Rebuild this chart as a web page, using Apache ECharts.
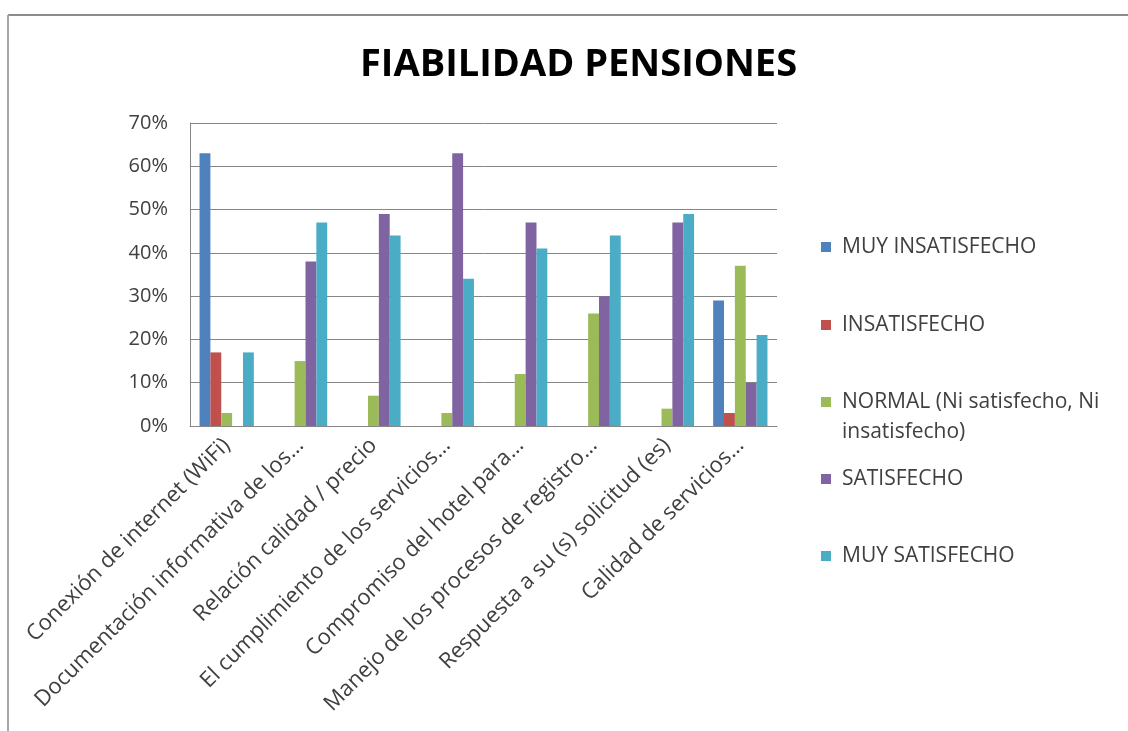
<!DOCTYPE html>
<html>
<head>
<meta charset="utf-8">
<script src="https://cdn.jsdelivr.net/npm/echarts@6/dist/echarts.min.js"></script>
<style>
  html, body { margin: 0; padding: 0; background: #fff; }
  #main { width: 1128px; height: 731px; }
</style>
</head>
<body>
<div id="main"></div>
<script>
// categorias (etiquetas cortadas como en el original)
var categorias = [
  'Conexión de internet (WiFi)',
  'Documentación informativa de los…',
  'Relación calidad / precio',
  'El cumplimiento de los servicios…',
  'Compromiso del hotel para…',
  'Manejo de los procesos de registro…',
  'Respuesta a su (s) solicitud (es)',
  'Calidad de servicios…'
];
var nombres = [
  'MUY INSATISFECHO',
  'INSATISFECHO',
  'NORMAL (Ni satisfecho, Ni\ninsatisfecho)',
  'SATISFECHO',
  'MUY SATISFECHO'
];
// porcentajes
var muyInsatisfecho = [63, 0, 0, 0, 0, 0, 0, 29];
var insatisfecho    = [17, 0, 0, 0, 0, 0, 0, 3];
var normal          = [3, 15, 7, 3, 12, 26, 4, 37];
var satisfecho      = [0, 38, 49, 63, 47, 30, 47, 10];
var muySatisfecho   = [17, 47, 44, 34, 41, 44, 49, 21];
var yTicks = [0, 10, 20, 30, 40, 50, 60, 70];

var colores = ['#4F81BD', '#C0504D', '#9BBB59', '#8064A2', '#4BACC6'];
var valores = [muyInsatisfecho, insatisfecho, normal, satisfecho, muySatisfecho];
var fuente = '"Open Sans", sans-serif';

var myChart = echarts.init(document.getElementById('main'));

var series = [];
for (var i = 0; i < nombres.length; i++) {
  series.push({
    name: nombres[i],
    type: 'bar',
    data: valores[i],
    barGap: '0%',
    barCategoryGap: '26%',
    itemStyle: { color: colores[i] }
  });
}

// una leyenda por elemento para colocarlas como en el original
var legendTops = [227, 305, 382, 459, 536];
// cuadrado arriba de una caja alta, para que quede junto a la primera linea
var iconoAlto = 'path://M0,0L10,0L10,10L0,10Z M0,40L10,40';
var legends = [];
for (var j = 0; j < nombres.length; j++) {
  var dosLineas = j === 2;
  legends.push({
    orient: 'vertical',
    left: 816,
    top: legendTops[j],
    data: [nombres[j]],
    icon: dosLineas ? iconoAlto : 'rect',
    itemWidth: 10,
    itemHeight: dosLineas ? 40 : 10,
    selectedMode: false,
    textStyle: {
      fontFamily: fuente,
      fontSize: 21,
      color: '#404040',
      lineHeight: 30,
      padding: [0, 0, 0, 6]
    }
  });
}

var option = {
  backgroundColor: '#fff',
  animation: false,
  title: {
    text: 'FIABILIDAD PENSIONES',
    left: 355,
    top: 41,
    textStyle: {
      fontFamily: fuente,
      fontWeight: 'bold',
      fontSize: 38,
      color: '#000'
    }
  },
  legend: legends,
  grid: {
    left: 190,
    right: 351,
    top: 123,
    bottom: 305
  },
  xAxis: {
    type: 'category',
    data: categorias,
    axisLine: { lineStyle: { color: '#868686', width: 1 } },
    axisTick: { show: false },
    axisLabel: {
      rotate: 45,
      interval: 0,
      margin: 16,
      fontFamily: fuente,
      fontSize: 22,
      color: '#404040'
    }
  },
  yAxis: {
    type: 'value',
    min: yTicks[0],
    max: yTicks[yTicks.length - 1],
    interval: 10,
    axisLine: { show: true, lineStyle: { color: '#868686', width: 1 } },
    axisTick: { show: false },
    axisLabel: {
      formatter: '{value}%',
      margin: 22,
      fontFamily: fuente,
      fontSize: 20,
      color: '#404040'
    },
    splitLine: { lineStyle: { color: '#868686', width: 1 } }
  },
  graphic: [
    { type: 'line', shape: { x1: 8, y1: 15, x2: 1128, y2: 15 }, style: { stroke: '#8c8c8c', lineWidth: 2 } },
    { type: 'line', shape: { x1: 8, y1: 15, x2: 8, y2: 731 }, style: { stroke: '#a6a6a6', lineWidth: 2 } }
  ],
  series: series
};

myChart.setOption(option);
</script>
</body>
</html>
